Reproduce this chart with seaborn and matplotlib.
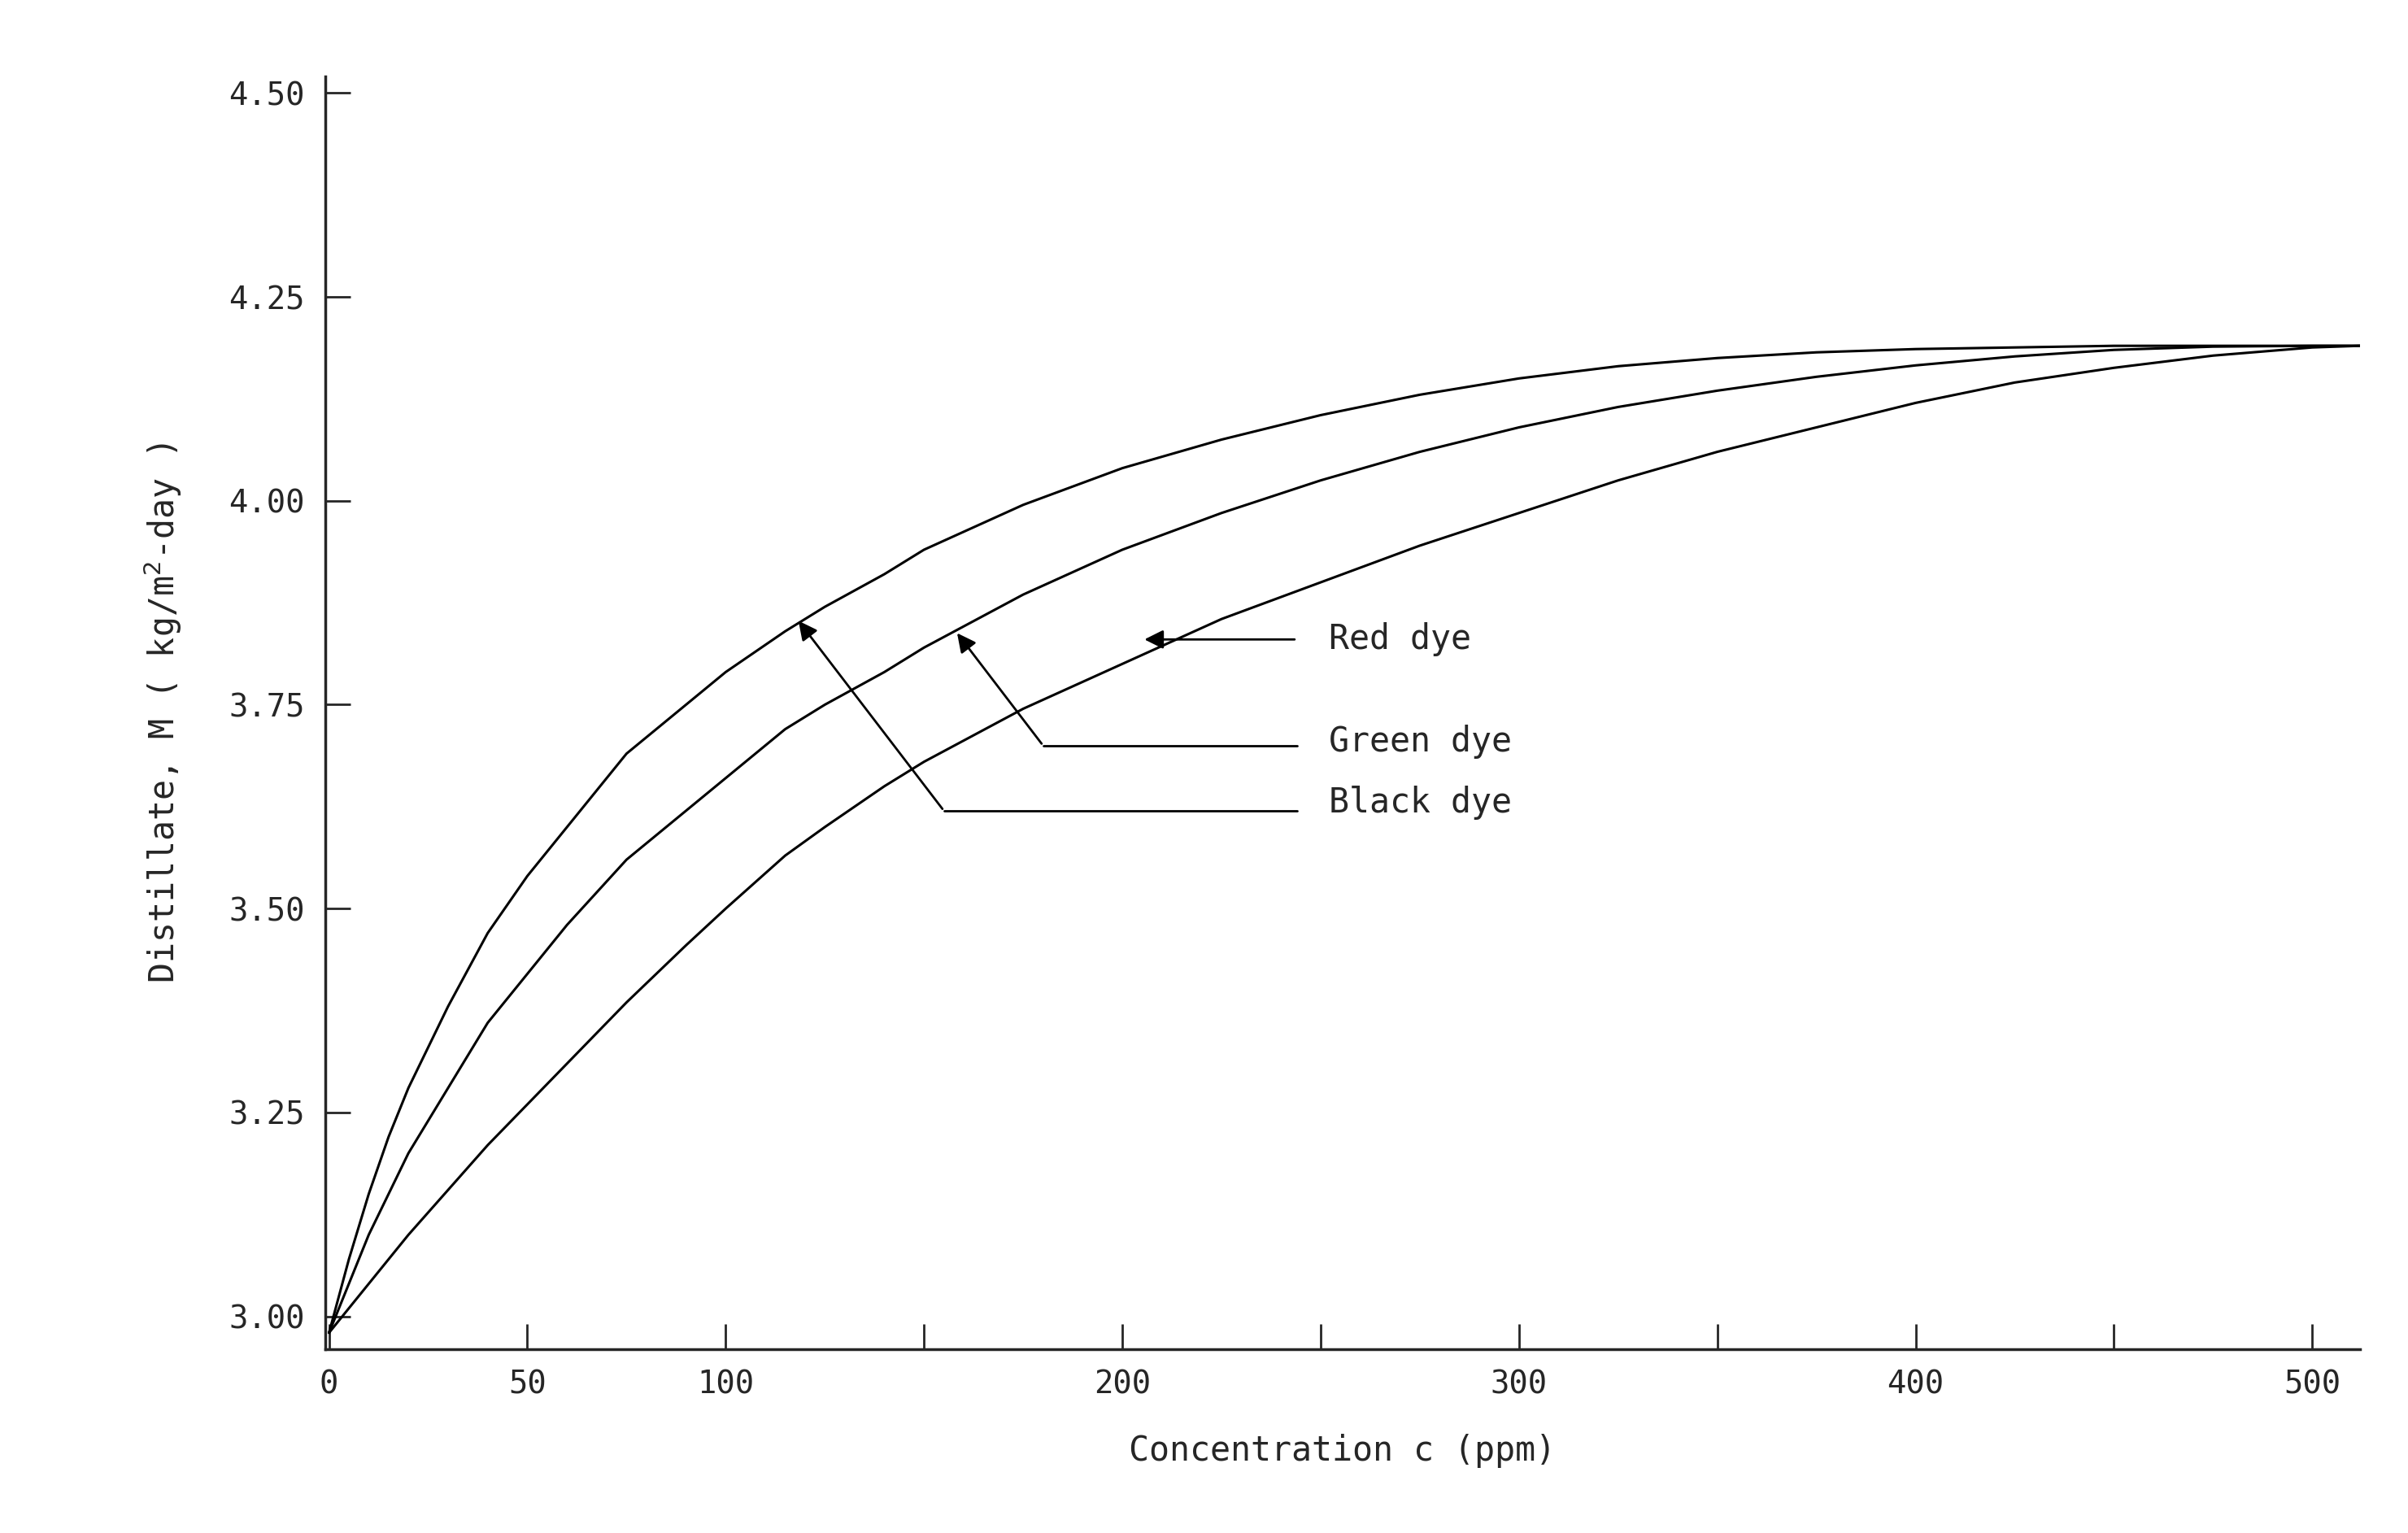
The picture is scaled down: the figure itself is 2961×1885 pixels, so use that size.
import numpy as np
import pandas as pd
import matplotlib
matplotlib.use("Agg")
import matplotlib.pyplot as plt
import seaborn as sns

conc = [0, 5, 10, 15, 20, 30, 40, 50, 60, 75, 90, 100, 115, 125, 140, 150, 175, 200, 225, 250, 275, 300, 325, 350, 375, 400, 425, 450, 475, 500, 512]
black_dye = [2.98, 3.07, 3.15, 3.22, 3.28, 3.38, 3.47, 3.54, 3.60, 3.69, 3.75, 3.79, 3.84, 3.87, 3.91, 3.94, 3.995, 4.04, 4.075, 4.105, 4.13, 4.15, 4.165, 4.175, 4.182, 4.186, 4.188, 4.19, 4.19, 4.19, 4.19]
green_dye = [2.98, 3.04, 3.10, 3.15, 3.20, 3.28, 3.36, 3.42, 3.48, 3.56, 3.62, 3.66, 3.72, 3.75, 3.79, 3.82, 3.885, 3.94, 3.985, 4.025, 4.06, 4.09, 4.115, 4.135, 4.152, 4.166, 4.177, 4.185, 4.189, 4.19, 4.19]
red_dye = [2.98, 3.01, 3.04, 3.07, 3.10, 3.155, 3.21, 3.26, 3.31, 3.385, 3.455, 3.50, 3.565, 3.60, 3.65, 3.68, 3.745, 3.80, 3.855, 3.90, 3.945, 3.985, 4.025, 4.06, 4.09, 4.12, 4.145, 4.163, 4.178, 4.188, 4.19]

rows = []
for name, vals in [("Black dye", black_dye), ("Green dye", green_dye), ("Red dye", red_dye)]:
    for c, m in zip(conc, vals):
        rows.append({"c": c, "M": m, "dye": name})
df = pd.DataFrame(rows)

sns.set_theme(style="ticks")
plt.rcParams["font.family"] = ["DejaVu Sans Mono"]

fig, ax = plt.subplots(figsize=(29.61, 18.85), dpi=100)
fig.subplots_adjust(left=0.135, right=0.98, bottom=0.12, top=0.95)
sns.lineplot(data=df, x="c", y="M", units="dye", estimator=None, color="black",
             linewidth=2.2, ax=ax, legend=False)

ax.set_xlim(-1, 512)
ax.set_ylim(2.96, 4.52)
ax.set_xticks(range(0, 501, 50))
ax.set_xticklabels(["0", "50", "100", "", "200", "", "300", "", "400", "", "500"])
ax.set_yticks([3.0, 3.25, 3.5, 3.75, 4.0, 4.25, 4.5])
ax.set_yticklabels(["3.00", "3.25", "3.50", "3.75", "4.00", "4.25", "4.50"])
ax.tick_params(direction="in", length=22, width=2, labelsize=28, pad=18)
for s in ["top", "right"]:
    ax.spines[s].set_visible(False)
for s in ["left", "bottom"]:
    ax.spines[s].set_linewidth(2.5)
ax.set_xlabel("Concentration c (ppm)", fontsize=30, labelpad=30)
ax.set_ylabel(r"Distillate, M ( kg/m$^2$-day )", fontsize=30, labelpad=40)

akw = dict(arrowstyle="-|>", color="black", lw=2, mutation_scale=35)
ax.annotate("", xy=(205, 3.83), xytext=(244, 3.83), arrowprops=akw)
ax.annotate("", xy=(158, 3.84), xytext=(180, 3.70), arrowprops=akw)
ax.plot([180, 244], [3.70, 3.70], color="black", lw=2)
ax.annotate("", xy=(118, 3.855), xytext=(155, 3.62), arrowprops=akw)
ax.plot([155, 244], [3.62, 3.62], color="black", lw=2)
ax.text(252, 3.83, "Red dye", fontsize=30, va="center")
ax.text(252, 3.705, "Green dye", fontsize=30, va="center")
ax.text(252, 3.63, "Black dye", fontsize=30, va="center")

fig.savefig("out.png", dpi=100)
